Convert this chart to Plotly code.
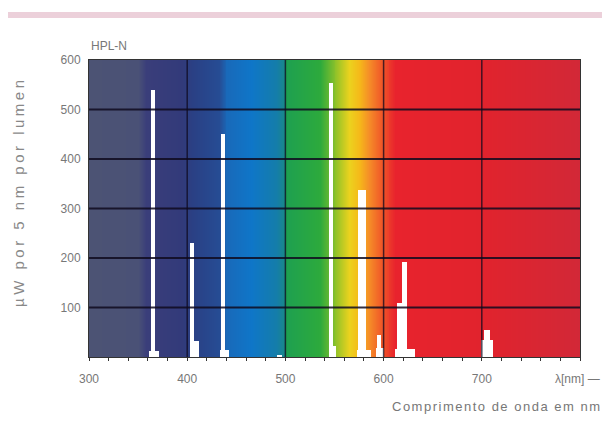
import numpy as np
import plotly.graph_objects as go

# ---- data ----
peak_nm = [365, 405, 436, 546, 578, 595, 621, 705]
peak_val = [540, 230, 450, 553, 338, 44, 192, 55]
peak_w = [4, 4, 4, 4, 9, 4, 5, 6]

base_nm = [366, 408, 438, 548, 580, 596, 616, 622, 705, 494]
base_val = [12, 32, 14, 22, 14, 18, 110, 16, 35, 5]
base_w = [10, 8, 10, 8, 14, 8, 5, 20, 12, 6]

y_ticks = [100, 200, 300, 400, 500, 600]
x_major = [300, 400, 500, 600, 700]

# spectrum background colour stops (wavelength, colour)
stop_nm = [300, 350, 358, 395, 405, 432, 440, 465, 490, 499, 501, 535, 552, 565, 575, 585, 598, 612, 700, 800]
stop_col = ["rgb(76,83,116)", "rgb(74,81,118)", "rgb(58,62,122)", "rgb(50,58,122)",
            "rgb(42,64,132)", "rgb(38,76,148)", "rgb(25,105,185)", "rgb(15,118,200)",
            "rgb(20,125,170)", "rgb(25,135,140)", "rgb(30,160,80)", "rgb(45,170,60)",
            "rgb(150,195,40)", "rgb(235,210,30)", "rgb(245,185,25)", "rgb(245,140,40)",
            "rgb(240,85,40)", "rgb(232,35,45)", "rgb(225,35,45)", "rgb(210,40,55)"]

XMIN, XMAX, YMAX = 300, 800, 600
FONT = "Liberation Sans Narrow, Liberation Sans, Arial"

# the page body adds an 8px offset; keep figure inside the viewport and compensate
W, H = 594, 409
ML, MR, MT, MB = 81, 22, 52, 60
PH = H - MT - MB  # plot height in px

fig = go.Figure()

# background gradient
gx = np.arange(XMIN, XMAX + 1, 1)
colorscale = [[(w - XMIN) / (XMAX - XMIN), c] for w, c in zip(stop_nm, stop_col)]
fig.add_trace(go.Heatmap(x=gx, y=[0, YMAX], z=[gx, gx], zmin=XMIN, zmax=XMAX,
                         colorscale=colorscale, showscale=False, zsmooth="best",
                         hoverinfo="skip"))

# grid lines
hx, hy = [], []
for v in y_ticks[:-1]:
    hx += [XMIN, XMAX, None]
    hy += [v, v, None]
fig.add_trace(go.Scatter(x=hx, y=hy, mode="lines", line=dict(color="rgba(15,10,30,0.85)", width=2),
                         hoverinfo="skip", showlegend=False))
vx, vy = [], []
for v in x_major[1:]:
    vx += [v, v, None]
    vy += [0, YMAX, None]
fig.add_trace(go.Scatter(x=vx, y=vy, mode="lines", line=dict(color="rgba(15,10,30,0.75)", width=1.5),
                         hoverinfo="skip", showlegend=False))

# spectral lines
fig.add_trace(go.Bar(x=base_nm, y=base_val, width=base_w, marker=dict(color="white", line=dict(width=0)),
                     showlegend=False))
fig.add_trace(go.Bar(x=peak_nm, y=peak_val, width=peak_w, marker=dict(color="white", line=dict(width=0)),
                     showlegend=False))

tickvals = list(range(XMIN, XMAX + 1, 20))
ticktext = [str(v) if (v % 100 == 0 and v < XMAX) else "" for v in tickvals]

fig.update_layout(
    width=W, height=H,
    margin=dict(l=ML, r=MR, t=MT, b=MB, autoexpand=False),
    paper_bgcolor="white", plot_bgcolor="white",
    barmode="overlay", bargap=0,
    showlegend=False,
    font=dict(family=FONT, color="#777777", size=12),
    xaxis=dict(range=[XMIN, XMAX], tickvals=tickvals, ticktext=ticktext,
               ticks="outside", ticklen=3, tickcolor="#333333", tickwidth=1,
               showgrid=False, zeroline=False, showline=True, linecolor="#333333",
               linewidth=1, mirror=True, ticklabelstandoff=8,
               tickfont=dict(size=12, color="#777777")),
    yaxis=dict(range=[0, YMAX], tickvals=y_ticks, ticks="", showgrid=False,
               zeroline=False, showline=True, linecolor="#333333", linewidth=1,
               mirror=True, ticklabelstandoff=5,
               tickfont=dict(size=12, color="#777777")),
    shapes=[dict(type="rect", xref="paper", yref="paper",
                 x0=-0.2, x1=1.1, y0=(PH + MT - 10) / PH, y1=(PH + MT - 4) / PH,
                 fillcolor="rgb(236,208,218)", line=dict(width=0))],
    annotations=[
        dict(text="HPL-N", xref="paper", yref="paper", x=0, y=1, xanchor="left",
             yanchor="bottom", yshift=5, showarrow=False,
             font=dict(size=12, color="#777777", family=FONT)),
        dict(text='<span style="letter-spacing:3.5px">µW por 5 nm por lumen</span>',
             xref="paper", yref="paper", x=0, xshift=-71,
             xanchor="center", yanchor="middle",
             y=(PH + MT - 184) / PH, textangle=-90, showarrow=False,
             font=dict(size=15, color="#888888", family=FONT)),
        dict(text="λ[nm] —", xref="paper", yref="paper", x=1, xshift=22,
             y=0, yshift=-22, xanchor="right", yanchor="middle", showarrow=False,
             font=dict(size=12, color="#777777", family=FONT)),
        dict(text='<span style="letter-spacing:1.5px">Comprimento de onda em nm</span>',
             xref="paper", yref="paper", x=1, xshift=23,
             y=0, yshift=-49, xanchor="right", yanchor="middle", showarrow=False,
             font=dict(size=13, color="#777777", family=FONT)),
    ],
)

fig.write_html("out.html")
